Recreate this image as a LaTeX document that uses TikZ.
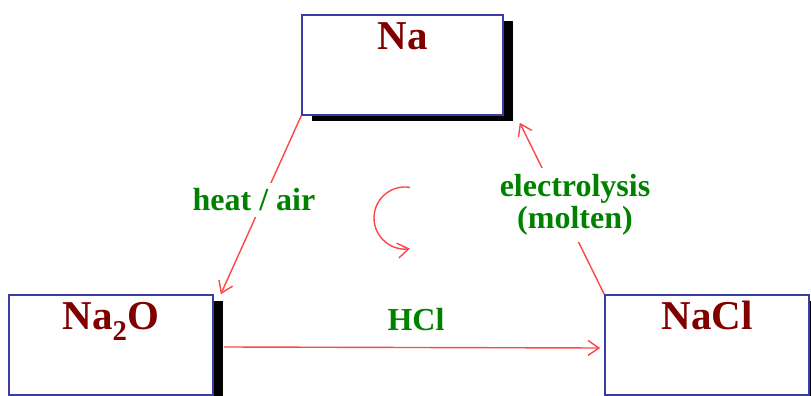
\documentclass[tikz,border=0pt]{standalone}
\usepackage{fontspec}
\setmainfont{Liberation Serif}
\usepackage{tikz}
\usetikzlibrary{arrows.meta,shadows}
\definecolor{boxblue}{RGB}{60,60,165}
\definecolor{chemred}{RGB}{128,0,0}
\definecolor{condgreen}{RGB}{0,130,0}
\definecolor{arrowred}{RGB}{255,70,70}
\tikzset{
  flow/.style={-{Straight Barb[length=11pt,width=15pt]}, line width=1.4pt, draw=arrowred},
  every node/.style={anchor=center}
}

\begin{document}
\begin{tikzpicture}[
    x=1pt, y=1pt,
    species/.style={draw=boxblue, line width=1.6pt, fill=white,
      minimum width=204pt, minimum height=100pt, inner sep=0pt,
      text height=35pt, text depth=65pt, text=chemred,
      font=\fontsize{41}{44}\selectfont\bfseries,
      general shadow={fill=black, shadow xshift=10pt, shadow yshift=-6pt}},
    cond/.style={text=condgreen, font=\fontsize{32}{32}\selectfont\bfseries,
      align=center, fill=white, inner sep=6pt}
  ]
  \useasboundingbox (0,0) rectangle (811,396);
  \clip (0,0) rectangle (811,396);

  % species boxes
  \node[species, minimum width=201pt] (na)   at (402.5,331) {Na};
  \node[species] (nao)  at (111,51) {Na\textsubscript{2}O};
  \node[species] (nacl) at (707,51) {NaCl};

  % reactions
  \draw[flow] (na.south west) -- ([xshift=7pt]nao.north east);
  \draw[flow] ([xshift=10pt,yshift=-2pt]nao.east) -- ([xshift=-4pt,yshift=-3pt]nacl.west);
  \draw[flow] (nacl.north west) -- ([xshift=16pt,yshift=-7pt]na.south east);

  % conditions
  \node[cond] (heat)  at (254,196) {heat / air};
  \node[cond] (hcl)   at (416,76) {HCl};
  \node[cond] (elec)  at (575,191) {electrolysis\\(molten)};

  % cycle mark
  \coordinate (cyc) at (405,178);
  \draw[flow] ([shift={(81:31)}]cyc) arc[start angle=81, end angle=279, radius=31];

\end{tikzpicture}
\end{document}
